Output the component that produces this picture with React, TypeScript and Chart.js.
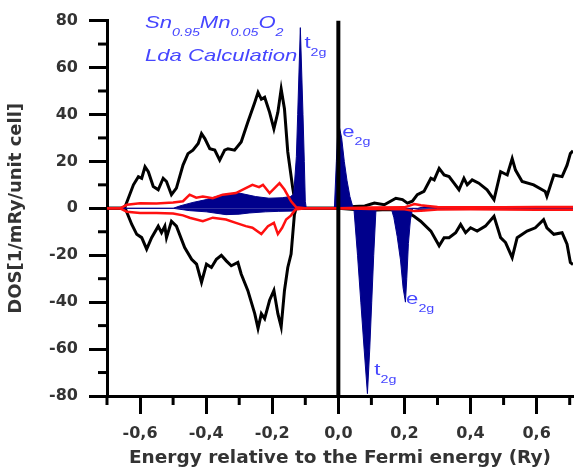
import React, { useEffect, useRef } from "react";
import { Chart, registerables } from "chart.js";
Chart.register(...registerables);

// ---- data (Energy in Ry, DOS in 1/mRy/unit cell) ----
const blackUpX = [-0.70, -0.655, -0.645, -0.62, -0.605, -0.595, -0.585, -0.575, -0.56, -0.545, -0.53, -0.52, -0.505, -0.49, -0.47, -0.455, -0.44, -0.424, -0.414, -0.404, -0.389, -0.374, -0.359, -0.344, -0.334, -0.314, -0.294, -0.274, -0.253, -0.243, -0.233, -0.223, -0.208, -0.195, -0.183, -0.173, -0.163, -0.153, -0.138, -0.128, 0.0, 0.048, 0.08, 0.109, 0.139, 0.174, 0.194, 0.209, 0.224, 0.239, 0.259, 0.28, 0.29, 0.305, 0.32, 0.335, 0.35, 0.365, 0.38, 0.39, 0.405, 0.425, 0.45, 0.471, 0.491, 0.511, 0.526, 0.536, 0.556, 0.591, 0.626, 0.631, 0.652, 0.677, 0.692, 0.702, 0.71];
const blackUpY = [0, 0, 0.8, 10, 13.5, 12.8, 17.7, 15.6, 9.3, 7.9, 12.8, 11.4, 5.8, 8.6, 18.4, 23.3, 24.8, 27.6, 31.8, 29.7, 25.4, 24.8, 20.5, 24.8, 25.4, 24.8, 28.3, 36.7, 45.1, 49.4, 46.5, 47.3, 40.9, 33.9, 40.9, 50.8, 42.3, 24, 8.6, 0, 0, 0.8, 1, 2.2, 1.5, 4.3, 3.7, 2.2, 3, 5.8, 7.2, 12.8, 12.1, 17, 14.2, 13.5, 10.7, 7.9, 12.8, 10, 12.1, 10.7, 7.9, 3.7, 15.6, 14.2, 21.2, 16.3, 11.4, 10, 7.2, 5.1, 14.2, 13.5, 18.4, 23.3, 24.5];

const blackDownX = [-0.70, -0.645, -0.625, -0.61, -0.595, -0.58, -0.565, -0.545, -0.535, -0.525, -0.52, -0.505, -0.49, -0.465, -0.444, -0.429, -0.414, -0.399, -0.384, -0.369, -0.354, -0.339, -0.324, -0.304, -0.294, -0.274, -0.253, -0.243, -0.233, -0.223, -0.208, -0.195, -0.183, -0.173, -0.163, -0.153, -0.143, -0.133, -0.128, 0.0, 0.05, 0.1, 0.15, 0.2, 0.229, 0.249, 0.28, 0.305, 0.32, 0.335, 0.355, 0.37, 0.385, 0.4, 0.42, 0.445, 0.471, 0.491, 0.506, 0.526, 0.541, 0.571, 0.596, 0.621, 0.631, 0.652, 0.677, 0.692, 0.702, 0.71];
const blackDownY = [0, 0, -6.9, -11.1, -12.5, -17.4, -12.5, -7.6, -10.4, -7.6, -12.5, -5.5, -7.6, -16.7, -21.7, -23.8, -31.5, -23.8, -25.2, -21.7, -20, -22.4, -24.5, -23.1, -28, -35, -44.9, -51.2, -44.9, -47, -39.2, -35, -44.9, -50.5, -35, -25.2, -19.5, -2.7, 0, 0, -0.5, -0.8, -0.5, -1, -3.4, -5.5, -9.7, -16, -12.5, -12.5, -10.4, -6.9, -10.4, -8.3, -9.7, -7.6, -3.4, -12.5, -14.6, -21, -12.5, -9.7, -8.3, -4.8, -8.3, -11.1, -10.4, -15.3, -23.1, -24];

const redUpX = [-0.70, -0.66, -0.64, -0.60, -0.55, -0.50, -0.47, -0.45, -0.43, -0.41, -0.38, -0.35, -0.31, -0.28, -0.26, -0.24, -0.228, -0.208, -0.19, -0.178, -0.163, -0.143, -0.128, -0.1, 0.0, 0.1, 0.2, 0.23, 0.25, 0.27, 0.3, 0.4, 0.5, 0.6, 0.71];
const redUpY = [0, 0, 1.5, 2.2, 2, 2.5, 3, 5.8, 4.5, 5, 4.3, 5.8, 6.5, 8.6, 10, 9, 10, 6.5, 9, 10.7, 8, 3, 0.5, 0, 0, 0.3, 0.4, 1.8, 1.3, 1, 0.6, 0.4, 0.5, 0.6, 0.6];

const redDownX = [-0.70, -0.66, -0.64, -0.60, -0.55, -0.50, -0.47, -0.45, -0.41, -0.38, -0.34, -0.31, -0.28, -0.26, -0.233, -0.213, -0.195, -0.183, -0.17, -0.158, -0.143, -0.13, -0.1, 0.0, 0.1, 0.2, 0.23, 0.25, 0.27, 0.3, 0.4, 0.5, 0.6, 0.71];
const redDownY = [0, 0, -1.5, -2, -2, -2.2, -3, -4, -5.5, -4, -4.8, -6.2, -7.6, -8.3, -11, -7.6, -6.2, -11, -8.3, -4.8, -3, -0.5, 0, 0, -0.3, -0.4, -1.2, -1, -0.8, -0.5, -0.4, -0.5, -0.6, -0.6];

const blueUpX = [-0.70, -0.50, -0.48, -0.44, -0.40, -0.35, -0.30, -0.25, -0.21, -0.17, -0.145, -0.135, -0.127, -0.123, -0.115, -0.107, -0.103, -0.1, -0.097, -0.012, -0.006, -0.002, 0.004, 0.01, 0.018, 0.026, 0.035, 0.045, 0.1, 0.24, 0.27, 0.3, 0.71];
const blueUpY = [0, 0, 1, 2.5, 3.7, 5.8, 6.5, 5, 4.3, 4.5, 5, 6, 22, 40, 77, 40, 20, 3, 0, 0, 20, 32, 34, 30, 20, 12, 5, 0, 0, 0, 1, 0, 0];

const blueDownX = [-0.70, -0.50, -0.45, -0.40, -0.34, -0.30, -0.27, -0.22, -0.18, -0.14, -0.128, -0.1, 0.047, 0.058, 0.068, 0.078, 0.088, 0.095, 0.101, 0.107, 0.114, 0.16, 0.168, 0.178, 0.188, 0.196, 0.203, 0.207, 0.212, 0.218, 0.225, 0.26, 0.3, 0.71];
const blueDownY = [0, 0, -1, -1.5, -2.7, -2.5, -2, -1.5, -1.3, -1.2, -0.5, 0, 0, -20, -40, -60, -79, -60, -40, -20, 0, 0, -4, -12, -22, -34, -40, -30, -15, -5, 0, -1, 0, 0];

const fermiX = [0, 0];
const fermiY = [-80, 80];

const xMajorTicks = [-0.6, -0.4, -0.2, 0, 0.2, 0.4, 0.6];
const xMinorTicks = [-0.7, -0.5, -0.3, -0.1, 0.1, 0.3, 0.5, 0.7];
const yMinorTicks = [-70, -50, -30, -10, 10, 30, 50, 70];

const titleLine1 = [["Sn", false], ["0.95", true], ["Mn", false], ["0.05", true], ["O", false], ["2", true]];
const titleLine2 = "Lda Calculation";
const titlePos = { x: -0.585, y1: 76.8, y2: 62.9 };
const peakLabels = [
  { x: -0.1026, y: 68.4, main: "t", sub: "2g" },
  { x: 0.012, y: 30.4, main: "e", sub: "2g" },
  { x: 0.205, y: -40.7, main: "e", sub: "2g" },
  { x: 0.109, y: -70.9, main: "t", sub: "2g" },
];

const pts = (xs: number[], ys: number[]) => xs.map((x, i) => ({ x, y: ys[i] }));

const SX = 1.3;
const TEXT_FONT = '"Liberation Sans", Arial, sans-serif';
function drawRich(ctx: CanvasRenderingContext2D, x: number, y: number, parts: any[], italic: boolean, big: number, small: number) {
  let cx = x;
  for (const [t, sub] of parts) {
    const size = sub ? small : big;
    ctx.font = `${italic ? "italic " : ""}${size}px ${TEXT_FONT}`;
    const w = ctx.measureText(t).width * SX;
    ctx.save();
    ctx.translate(cx, y + (sub ? 8 : 0));
    ctx.scale(SX, 1);
    ctx.fillText(t, 0, 0);
    ctx.restore();
    cx += w;
  }
}

const decorPlugin = {
  id: "decor",
  afterDraw(chart: any) {
    const { ctx, chartArea, scales } = chart;
    const xs = scales.x, ys = scales.y;
    ctx.save();
    ctx.strokeStyle = "#000";
    ctx.lineWidth = 3;
    ctx.lineCap = "butt";
    for (const v of xMinorTicks) {
      const px = xs.getPixelForValue(v);
      ctx.beginPath();
      ctx.moveTo(px, chartArea.bottom);
      ctx.lineTo(px, chartArea.bottom + 9);
      ctx.stroke();
    }
    for (const v of yMinorTicks) {
      const py = ys.getPixelForValue(v);
      ctx.beginPath();
      ctx.moveTo(chartArea.left, py);
      ctx.lineTo(chartArea.left - 9, py);
      ctx.stroke();
    }
    ctx.fillStyle = "#4646ff";
    ctx.textBaseline = "alphabetic";
    ctx.textAlign = "left";
    const tx = xs.getPixelForValue(titlePos.x);
    drawRich(ctx, tx, ys.getPixelForValue(titlePos.y1), titleLine1, true, 17, 11);
    drawRich(ctx, tx, ys.getPixelForValue(titlePos.y2), [[titleLine2, false]], true, 17, 11);
    for (const l of peakLabels) {
      drawRich(ctx, xs.getPixelForValue(l.x), ys.getPixelForValue(l.y), [[l.main, false], [l.sub, true]], false, 17, 11);
    }
    ctx.restore();
  },
};

export default function App() {
  const ref = useRef<HTMLCanvasElement>(null);
  useEffect(() => {
    document.body.style.margin = "0";
    const line = (data: any, color: string, width: number, extra: any = {}) => ({
      data,
      borderColor: color,
      backgroundColor: color,
      borderWidth: width,
      pointRadius: 0,
      tension: 0,
      fill: false,
      ...extra,
    });
    const chart = new Chart(ref.current!, {
      type: "line",
      data: {
        datasets: [
          line(pts(fermiX, fermiY), "#000", 4),
          line(pts(redUpX, redUpY), "#ff1010", 2.5),
          line(pts(redDownX, redDownY), "#ff1010", 2.5),
          line(pts(blueUpX, blueUpY), "#00008c", 1, { fill: "origin" }),
          line(pts(blueDownX, blueDownY), "#00008c", 1, { fill: "origin" }),
          line(pts(blackUpX, blackUpY), "#000", 3),
          line(pts(blackDownX, blackDownY), "#000", 3),
        ] as any,
      },
      options: {
        animation: false,
        responsive: false,
        events: [],
        layout: { padding: { top: 17, right: 2, left: 0, bottom: 0 } },
        plugins: { legend: { display: false }, tooltip: { enabled: false } },
        scales: {
          x: {
            type: "linear",
            min: -0.7,
            max: 0.71,
            afterBuildTicks: (s: any) => { s.ticks = xMajorTicks.map((v) => ({ value: v })); },
            afterFit: (s: any) => { s.height = 76; },
            border: { display: true, color: "#000", width: 3 },
            grid: { drawOnChartArea: false, drawTicks: true, tickLength: 18, tickWidth: 3, tickColor: "#000" },
            ticks: {
              autoSkip: false,
              maxRotation: 0,
              padding: 10,
              color: "#333",
              font: { family: '"DejaVu Sans"', weight: "bold", size: 16 },
              callback: (v: any) => Number(v).toFixed(1).replace(".", ","),
            },
            title: {
              display: true,
              text: "Energy relative to the Fermi energy (Ry)",
              color: "#333",
              font: { family: '"DejaVu Sans"', weight: "bold", size: 18.5 },
              padding: { top: 0, bottom: 3 },
            },
          },
          y: {
            type: "linear",
            min: -80,
            max: 80,
            afterFit: (s: any) => { s.width = 107; },
            border: { display: true, color: "#000", width: 3 },
            grid: { drawOnChartArea: false, drawTicks: true, tickLength: 18, tickWidth: 3, tickColor: "#000" },
            ticks: {
              stepSize: 20,
              padding: 11,
              color: "#333",
              font: { family: '"DejaVu Sans"', weight: "bold", size: 16 },
            },
            title: {
              display: true,
              text: "DOS[1/mRy/unit cell]",
              color: "#333",
              font: { family: '"DejaVu Sans"', weight: "bold", size: 18 },
              padding: { top: 6, bottom: 0 },
            },
          },
        },
      },
      plugins: [decorPlugin],
    } as any);
    return () => chart.destroy();
  }, []);
  return (
    <div style={{ width: 575, height: 472 }}>
      <canvas ref={ref} width={575} height={472} style={{ display: "block" }} />
    </div>
  );
}
